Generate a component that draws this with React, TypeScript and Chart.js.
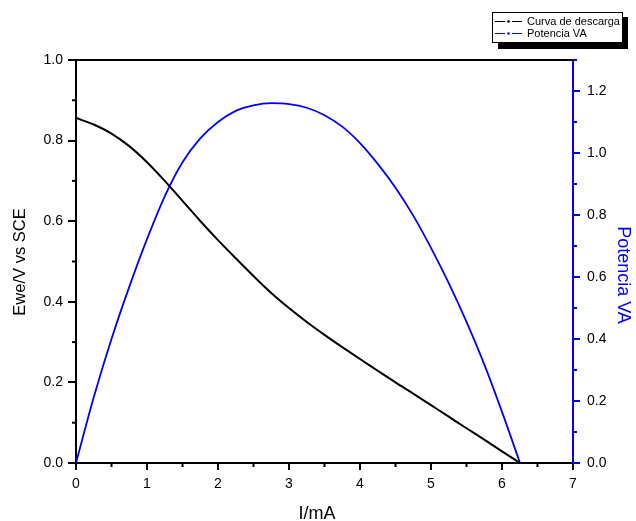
import React, { useEffect, useRef } from "react";
import { Chart, registerables } from "chart.js";

Chart.register(...registerables);

// Discharge curve: current (mA) vs potential (V vs SCE)
const curvaI = [0, 0.25, 0.5, 0.75, 1.0, 1.25, 1.5, 1.75, 2.0, 2.25, 2.5, 2.75, 3.0, 3.25, 3.5, 3.75, 4.0, 4.25, 4.5, 4.75, 5.0, 5.25, 5.5, 5.75, 6.0, 6.254];
const curvaV = [0.856, 0.840, 0.8175, 0.7863, 0.7463, 0.700, 0.6505, 0.6005, 0.553, 0.508, 0.464, 0.422, 0.3845, 0.350, 0.318, 0.2875, 0.258, 0.229, 0.200, 0.172, 0.1435, 0.115, 0.0863, 0.058, 0.029, 0.0];

// Power curve: current (mA) vs power (VA)
const potI = [0, 0.25, 0.5, 0.75, 1.0, 1.25, 1.5, 1.75, 2.0, 2.25, 2.5, 2.75, 3.0, 3.25, 3.5, 3.75, 4.0, 4.25, 4.5, 4.75, 5.0, 5.25, 5.5, 5.75, 6.0, 6.254];
const potP = [0, 0.212, 0.400, 0.568, 0.722, 0.860, 0.970, 1.047, 1.100, 1.136, 1.154, 1.161, 1.158, 1.146, 1.122, 1.085, 1.032, 0.965, 0.888, 0.798, 0.694, 0.580, 0.455, 0.318, 0.165, 0.0];

const xTicks = [0, 1, 2, 3, 4, 5, 6, 7];
const leftTicks = [0, 0.2, 0.4, 0.6, 0.8, 1.0];
const rightTicks = [0, 0.2, 0.4, 0.6, 0.8, 1.0, 1.2];

const seriesNames = ["Curva de descarga", "Potencia VA"];
const xTitle = "I/mA";
const leftTitle = "Ewe/V vs SCE";
const rightTitle = "Potencia VA";

const FONT = "'Liberation Sans', Arial, sans-serif";
const BLUE = "#0000ff";

const decorPlugin = {
  id: "decor",
  afterDraw(chart: any) {
    const { ctx, chartArea, scales } = chart;
    const { left, right, top, bottom } = chartArea;
    ctx.save();
    // top frame
    ctx.strokeStyle = "#000";
    ctx.lineWidth = 2;
    ctx.beginPath();
    ctx.moveTo(left - 1, top);
    ctx.lineTo(right, top);
    ctx.stroke();

    // minor ticks
    ctx.lineWidth = 2;
    for (let i = 0; i < xTicks.length - 1; i++) {
      const x = scales.x.getPixelForValue((xTicks[i] + xTicks[i + 1]) / 2);
      ctx.beginPath();
      ctx.moveTo(x, bottom);
      ctx.lineTo(x, bottom + 4);
      ctx.stroke();
    }
    for (let i = 0; i < leftTicks.length - 1; i++) {
      const y = scales.y.getPixelForValue((leftTicks[i] + leftTicks[i + 1]) / 2);
      ctx.beginPath();
      ctx.moveTo(left, y);
      ctx.lineTo(left - 4, y);
      ctx.stroke();
    }
    ctx.strokeStyle = BLUE;
    const rMinor = rightTicks.map((v) => v + 0.1);
    for (const v of rMinor) {
      const y = scales.y1.getPixelForValue(v);
      if (y < top - 1) continue;
      ctx.beginPath();
      ctx.moveTo(right, y);
      ctx.lineTo(right + 4, y);
      ctx.stroke();
    }

    // axis titles
    ctx.fillStyle = "#000";
    ctx.font = `16.5px ${FONT}`;
    ctx.textAlign = "center";
    ctx.textBaseline = "alphabetic";
    ctx.save();
    ctx.translate(25, 262);
    ctx.rotate(-Math.PI / 2);
    ctx.fillText(leftTitle, 0, 0);
    ctx.restore();

    ctx.font = `18px ${FONT}`;
    ctx.fillText(xTitle, 317, 519);

    ctx.save();
    ctx.fillStyle = BLUE;
    ctx.translate(618, 275);
    ctx.rotate(Math.PI / 2);
    ctx.fillText(rightTitle, 0, 0);
    ctx.restore();

    // legend
    ctx.fillStyle = "#000";
    ctx.fillRect(498, 17, 130, 32);
    ctx.fillStyle = "#fff";
    ctx.fillRect(492, 12, 131, 31);
    ctx.strokeStyle = "#000";
    ctx.lineWidth = 1;
    ctx.strokeRect(492.5, 12.5, 130, 30);
    const colors = ["#000", BLUE];
    const ys = [21.5, 33.5];
    ctx.font = `11px ${FONT}`;
    ctx.textAlign = "left";
    ctx.textBaseline = "middle";
    for (let i = 0; i < 2; i++) {
      const y = ys[i];
      ctx.strokeStyle = colors[i];
      ctx.fillStyle = colors[i];
      ctx.lineWidth = 1.2;
      ctx.beginPath();
      ctx.moveTo(495, y);
      ctx.lineTo(505, y);
      ctx.moveTo(512, y);
      ctx.lineTo(522, y);
      ctx.stroke();
      ctx.beginPath();
      ctx.arc(508.5, y, 1.3, 0, Math.PI * 2);
      ctx.fill();
      ctx.fillStyle = "#000";
      ctx.fillText(seriesNames[i], 527, y + 0.5);
    }
    ctx.restore();
  },
};

export default function App() {
  const ref = useRef<HTMLCanvasElement | null>(null);
  useEffect(() => {
    if (!ref.current) return;
    const tickFont = { family: FONT, size: 14 };
    const chart = new Chart(ref.current, {
      type: "line",
      data: {
        datasets: [
          {
            label: seriesNames[0],
            data: curvaI.map((x, i) => ({ x, y: curvaV[i] })),
            yAxisID: "y",
            borderColor: "#000",
            borderWidth: 2,
            pointRadius: 0,
            cubicInterpolationMode: "monotone",
            fill: false,
          },
          {
            label: seriesNames[1],
            data: potI.map((x, i) => ({ x, y: potP[i] })),
            yAxisID: "y1",
            borderColor: BLUE,
            borderWidth: 1.8,
            pointRadius: 0,
            cubicInterpolationMode: "monotone",
            fill: false,
          },
        ],
      },
      options: {
        animation: false,
        responsive: true,
        maintainAspectRatio: false,
        layout: { padding: { top: 60, left: 0, right: 0, bottom: 0 } },
        plugins: { legend: { display: false }, tooltip: { enabled: false } },
        events: [],
        scales: {
          x: {
            type: "linear",
            position: "bottom",
            min: 0,
            max: 7,
            afterBuildTicks: (s: any) => {
              s.ticks = xTicks.map((v) => ({ value: v }));
            },
            afterFit: (s: any) => {
              s.height = 58;
            },
            ticks: { font: tickFont, color: "#000", padding: 6, maxRotation: 0, callback: (v: any) => String(v) },
            grid: { drawOnChartArea: false, tickLength: 7, color: "#000", lineWidth: 2 },
            border: { color: "#000", width: 2 },
          },
          y: {
            type: "linear",
            position: "left",
            min: 0,
            max: 1,
            afterBuildTicks: (s: any) => {
              s.ticks = leftTicks.map((v) => ({ value: v }));
            },
            afterFit: (s: any) => {
              s.width = 76;
            },
            ticks: { font: tickFont, color: "#000", padding: 5, callback: (v: any) => Number(v).toFixed(1) },
            grid: { drawOnChartArea: false, tickLength: 8, color: "#000", lineWidth: 2 },
            border: { color: "#000", width: 2 },
          },
          y1: {
            type: "linear",
            position: "right",
            min: 0,
            max: 1.3,
            afterBuildTicks: (s: any) => {
              s.ticks = rightTicks.map((v) => ({ value: v }));
            },
            afterFit: (s: any) => {
              s.width = 63;
            },
            ticks: { font: tickFont, color: "#000", padding: 7, callback: (v: any) => Number(v).toFixed(1) },
            grid: { drawOnChartArea: false, tickLength: 7, color: BLUE, lineWidth: 2 },
            border: { color: BLUE, width: 2 },
          },
        },
      },
      plugins: [decorPlugin],
    } as any);
    return () => chart.destroy();
  }, []);
  return (
    <div style={{ position: "absolute", left: 0, top: 0, width: 636, height: 521, background: "#fff" }}>
      <canvas ref={ref} />
    </div>
  );
}
